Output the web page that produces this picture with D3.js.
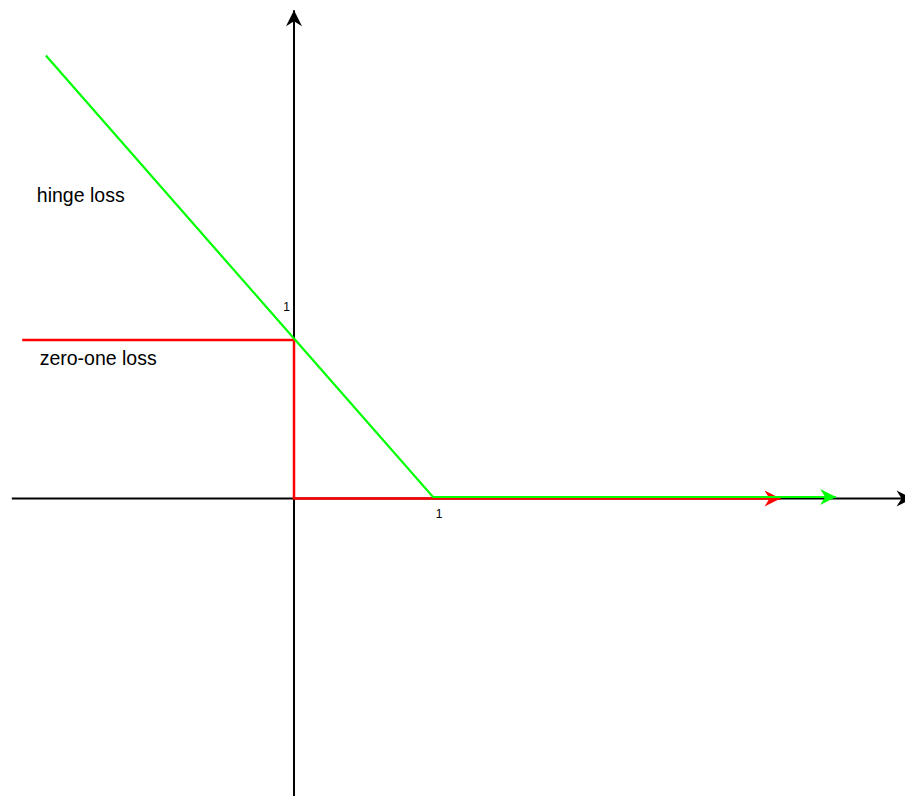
<!DOCTYPE html>
<html>
<head>
<meta charset="utf-8">
<script src="https://cdnjs.cloudflare.com/ajax/libs/d3/7.8.5/d3.min.js"></script>
<style>
  body { margin: 0; background: #fff; }
  svg { display: block; }
</style>
</head>
<body>
<script>
// hinge loss vs zero-one loss (data coordinates)
var hingeX = [-1.785, 0, 1, 3.9];
var hingeY = [2.785, 1, 0, 0];
var zeroOneX = [-1.955, 0, 0, 3.5];
var zeroOneY = [1, 1, 0, 0];

var axisXRange = [-2.03, 4.45];
var axisYRange = [-1.88, 3.08];

var tickLabels = ["1", "1"];
var seriesNames = ["hinge loss", "zero-one loss"];
var labelPos = [[-1.85, 1.87], [-1.83, 0.84]];

var width = 905, height = 796;

var x = d3.scaleLinear().domain([0, 1]).range([294, 433]);
var y = d3.scaleLinear().domain([0, 1]).range([498.5, 340]);

var svg = d3.select("body")
    .append("svg")
    .attr("width", width)
    .attr("height", height);

// arrow heads (draw.io style, notched back)
var defs = svg.append("defs");
function arrow(id, color) {
    defs.append("marker")
        .attr("id", id)
        .attr("markerUnits", "userSpaceOnUse")
        .attr("viewBox", "-17 -9 18 18")
        .attr("refX", 0)
        .attr("refY", 0)
        .attr("markerWidth", 18)
        .attr("markerHeight", 18)
        .attr("orient", "auto")
        .append("path")
        .attr("d", "M0,0 L-16,-8 L-11,0 L-16,8 Z")
        .attr("fill", color);
}
arrow("arrowBlack", "#000");
arrow("arrowRed", "#ff0000");
arrow("arrowGreen", "#00ff00");

var line = d3.line()
    .x(function(d) { return x(d[0]); })
    .y(function(d) { return y(d[1]); });

// axes
svg.append("path")
    .attr("d", line([[axisXRange[0], 0], [axisXRange[1], 0]]))
    .attr("stroke", "#000")
    .attr("stroke-width", 2)
    .attr("fill", "none")
    .attr("marker-end", "url(#arrowBlack)");

svg.append("path")
    .attr("d", line([[0, axisYRange[0]], [0, axisYRange[1]]]))
    .attr("stroke", "#000")
    .attr("stroke-width", 2)
    .attr("fill", "none")
    .attr("marker-end", "url(#arrowBlack)");

// zero-one loss (red)
svg.append("path")
    .datum(d3.zip(zeroOneX, zeroOneY))
    .attr("d", line)
    .attr("stroke", "#ff0000")
    .attr("stroke-width", 2.5)
    .attr("fill", "none")
    .attr("marker-end", "url(#arrowRed)");

// hinge loss (green), drawn on top, slightly raised like the original
svg.append("path")
    .datum(d3.zip(hingeX, hingeY))
    .attr("d", line)
    .attr("transform", "translate(0,-1.5)")
    .attr("stroke", "#00ff00")
    .attr("stroke-width", 2.2)
    .attr("fill", "none")
    .attr("marker-end", "url(#arrowGreen)");

// tick labels
svg.append("text")
    .attr("x", x(0) - 4)
    .attr("y", y(1) - 29)
    .attr("text-anchor", "end")
    .attr("font-family", "Liberation Sans, Arial, sans-serif")
    .attr("font-size", "12px")
    .text(tickLabels[0]);

svg.append("text")
    .attr("x", x(1) + 6)
    .attr("y", y(0) + 19)
    .attr("text-anchor", "middle")
    .attr("font-family", "Liberation Sans, Arial, sans-serif")
    .attr("font-size", "12px")
    .text(tickLabels[1]);

// series labels
seriesNames.forEach(function(name, i) {
    svg.append("text")
        .attr("x", x(labelPos[i][0]))
        .attr("y", y(labelPos[i][1]))
        .attr("font-family", "Liberation Sans, Arial, sans-serif")
        .attr("font-size", "19.5px")
        .attr("fill", "#000")
        .text(name);
});
</script>
</body>
</html>
